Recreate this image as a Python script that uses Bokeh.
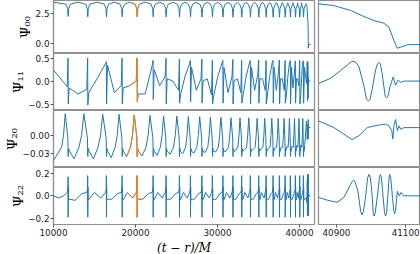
from bokeh.plotting import figure
from bokeh.layouts import gridplot
from bokeh.models import FixedTicker, Range1d, Title
from bokeh.embed import file_html
from bokeh.resources import INLINE

BLUE = "#1f77b4"
ORANGE = "#ff7f0e"

# periastron passage times (t-r)/M
t_peri = [11790, 14180, 16460, 18380, 20210, 22160, 23740, 25370, 26710, 28110,
          29390, 30670, 31890, 32960, 34020, 35040, 35940, 36790, 37560, 38260,
          38900, 39510, 40040, 40490]
t_start = 10000
t_end = 41340
orange_span = [18850, 20900]

# Psi_00
psi00_top = [3.47, 3.47, 3.47, 3.47, 3.47, 3.47, 3.47, 3.46, 3.46, 3.46, 3.46, 3.46,
             3.45, 3.45, 3.45, 3.45, 3.44, 3.44, 3.44, 3.44, 3.43, 3.43, 3.42, 3.42]
psi00_dip = [2.28, 2.26, 2.25, 2.25, 2.25, 2.25, 2.24, 2.24, 2.24, 2.23, 2.23, 2.23,
             2.22, 2.22, 2.22, 2.22, 2.22, 2.22, 2.22, 2.22, 2.22, 2.22, 2.22, 2.22]
psi00_shoulder = [3.30, 2.95]

# Psi_11
psi11_pre = [-0.12, -0.18, 0.38, -0.10, 0.00, 0.34, 0.10, -0.20, 0.38, 0.05, -0.30, 0.40,
             0.10, -0.25, 0.40, 0.15, -0.20, 0.40, 0.20, -0.20, 0.40, 0.20, -0.10, 0.40]
psi11_hi = [0.50, 0.50, 0.42, 0.50, 0.50, 0.45, 0.50, 0.48, 0.45, 0.48, 0.46, 0.45,
            0.47, 0.45, 0.45, 0.46, 0.45, 0.45, 0.46, 0.45, 0.45, 0.44, 0.45, 0.44]
psi11_lo = [-0.50, -0.52, -0.50, -0.50, -0.45, -0.40, -0.50, -0.48, -0.45, -0.48, -0.50, -0.48,
            -0.50, -0.48, -0.50, -0.48, -0.50, -0.48, -0.50, -0.48, -0.50, -0.48, -0.50, -0.48]
psi11_post = [-0.15, -0.25, 0.35, -0.15, -0.28, 0.25, 0.05, -0.30, 0.30, 0.00, -0.35, 0.30,
              0.00, -0.35, 0.30, 0.05, -0.35, 0.30, 0.05, -0.35, 0.30, 0.05, -0.30, 0.30]
psi11_mid = [0.24, -0.28, 0.05, -0.25, -0.10, -0.28, -0.10, 0.00, 0.10, -0.20, 0.05, 0.10,
             -0.25, 0.05, 0.10, -0.20, 0.05, 0.10, -0.20, 0.05, 0.10, -0.15, 0.05, 0.10]

# Psi_20
psi20_start = -0.043
psi20_min = [-0.040, -0.040, -0.038, -0.036, -0.035, -0.034, -0.032, -0.031, -0.030, -0.029,
             -0.028, -0.027, -0.026, -0.025, -0.024, -0.023, -0.022, -0.021, -0.020, -0.019,
             -0.018, -0.017, -0.016, -0.015]
psi20_peak = [0.038, 0.038, 0.037, 0.037, 0.036, 0.035, 0.034, 0.034, 0.033, 0.033,
              0.032, 0.032, 0.031, 0.031, 0.031, 0.030, 0.030, 0.030, 0.030, 0.030,
              0.030, 0.030, 0.030, 0.030]
psi20_spike = [-0.004, -0.036]

# Psi_22
psi22_hi = [0.17, 0.18, 0.18, 0.18, 0.18, 0.18, 0.18, 0.18, 0.18, 0.18, 0.18, 0.18,
            0.18, 0.18, 0.18, 0.18, 0.18, 0.18, 0.18, 0.18, 0.18, 0.18, 0.18, 0.18]
psi22_lo = [-0.19, -0.19, -0.19, -0.19, -0.19, -0.19, -0.19, -0.19, -0.19, -0.19, -0.19, -0.19,
            -0.19, -0.19, -0.19, -0.19, -0.19, -0.19, -0.19, -0.19, -0.19, -0.19, -0.19, -0.19]
psi22_w1 = [-0.02, -0.04, 0.03, -0.03, 0.03, -0.03, 0.03, -0.03, 0.03, -0.03, 0.03, -0.03,
            0.03, -0.03, 0.03, -0.03, 0.03, -0.03, 0.03, -0.03, 0.03, -0.03, 0.03, -0.03]
psi22_w2 = [0.00, 0.02, -0.02, 0.02, -0.02, 0.02, -0.02, 0.02, -0.02, 0.02, -0.02, 0.02,
            -0.02, 0.02, -0.02, 0.02, -0.02, 0.02, -0.02, 0.02, -0.02, 0.02, -0.02, 0.02]

# plunge and ringdown
pl00_t = [40849, 40892, 40941, 40979, 41008, 41037, 41052, 41066, 41076, 41086, 41105, 41143]
pl00_v = [3.33, 3.19, 2.78, 2.28, 1.94, 1.72, 1.38, 0.27, -0.37, -0.28, -0.08, -0.06]
pl11_t = [40849, 40883, 40912, 40936, 40943, 40950, 40957, 40965, 40979, 40987, 40992, 40997,
          41003, 41013, 41019, 41023, 41027, 41032, 41041, 41045, 41049, 41055, 41064, 41071,
          41078, 41086, 41095, 41143]
pl11_v = [-0.05, 0.06, 0.23, 0.38, 0.42, 0.43, 0.40, 0.31, -0.09, -0.40, -0.43, -0.40,
          -0.19, 0.24, 0.38, 0.41, 0.37, 0.16, -0.33, -0.37, -0.33, -0.12, 0.09, -0.09,
          0.02, -0.03, 0.0, 0.0]
pl20_t = [40849, 40892, 40921, 40945, 40965, 40989, 41018, 41042, 41052, 41060, 41063, 41066,
          41071, 41076, 41081, 41086, 41095, 41143]
pl20_v = [0.0254, 0.0142, 0.0029, -0.0068, 0.0, 0.014, 0.018, 0.020, 0.017, 0.0085, -0.0056,
          0.017, 0.028, 0.0085, 0.017, 0.011, 0.014, 0.014]
pl22_t = [40849, 40873, 40902, 40921, 40941, 40946, 40950, 40954, 40962, 40970, 40974, 40978,
          40984, 40990, 40994, 40998, 41003, 41006, 41009, 41012, 41019, 41024, 41027, 41030,
          41035, 41039, 41042, 41045, 41049, 41052, 41054, 41057, 41062, 41066, 41068, 41071,
          41076, 41082, 41087, 41095, 41143]
pl22_v = [-0.015, -0.038, -0.058, -0.015, 0.10, 0.13, 0.14, 0.12, 0.043, -0.14, -0.17, -0.14,
          -0.015, 0.16, 0.19, 0.16, 0.014, -0.15, -0.18, -0.15, 0.014, 0.16, 0.19, 0.16,
          -0.015, -0.15, -0.18, -0.15, 0.014, 0.16, 0.19, 0.16, -0.015, -0.14, -0.16, -0.13,
          0.04, 0.0, 0.03, 0.0, 0.0]

n = len(t_peri)


def nxt(i):
    return t_peri[i + 1] if i + 1 < n else pl00_t[0]


def build00():
    t, v = [t_start], [psi00_top[0]]
    for i, ts in enumerate(t_peri):
        t += [ts - 260, ts - 70, ts, ts + 70, ts + 260]
        v += [psi00_shoulder[0], psi00_shoulder[1], psi00_dip[i], psi00_shoulder[1], psi00_shoulder[0]]
        if i + 1 < n:
            t.append((ts + nxt(i)) / 2)
            v.append(psi00_top[i + 1])
    t += pl00_t + [t_end]
    v += pl00_v + [pl00_v[-1]]
    return t, v


def build11():
    t, v = [t_start], [psi11_mid[0]]
    for i, ts in enumerate(t_peri):
        t += [ts - 120, ts - 15, ts + 10, ts + 120]
        v += [psi11_pre[i], psi11_hi[i], psi11_lo[i], psi11_post[i]]
        if i + 1 < n:
            t.append((ts + nxt(i)) / 2)
            v.append(psi11_mid[i + 1])
    t += pl11_t + [t_end]
    v += pl11_v + [pl11_v[-1]]
    return t, v


def build20():
    t, v = [t_start], [psi20_start]
    prev = t_start
    for i, ts in enumerate(t_peri):
        P = ts - prev
        if i > 0:
            t += [prev + 0.08 * P, prev + 0.3 * P]
            v += [-0.027, psi20_min[i - 1]]
        t += [prev + 0.55 * P, prev + 0.68 * P, ts - 0.2 * P, ts - 40, ts, ts + 40]
        v += [-0.02, 0.0, psi20_peak[i], psi20_spike[0], psi20_spike[1], -0.022]
        prev = ts
    P = pl20_t[0] - prev
    t += [prev + 0.15 * P, prev + 0.45 * P]
    v += [-0.027, psi20_min[-1]]
    t += pl20_t + [t_end]
    v += pl20_v + [pl20_v[-1]]
    return t, v


def build22():
    t, v = [t_start], [0.0]
    prev = t_start
    for i, ts in enumerate(t_peri):
        P = ts - prev
        t += [prev + 0.35 * P, prev + 0.7 * P]
        v += [psi22_w1[i], psi22_w2[i]]
        t += [ts - 120, ts - 30, ts - 12, ts, ts + 15, ts + 40, ts + 150]
        v += [0.03, 0.06, psi22_hi[i], psi22_lo[i], 0.08, -0.04, -0.03]
        prev = ts
    t += pl22_t + [t_end]
    v += pl22_v + [pl22_v[-1]]
    return t, v


series = [build00(), build11(), build20(), build22()]
labels = ["Ψ₀₀", "Ψ₁₁", "Ψ₂₀", "Ψ₂₂"]
y_ranges = [(-0.81, 3.61), (-0.64, 0.60), (-0.055, 0.0436), (-0.255, 0.252)]
y_ticks = [[0.0, 2.5], [-0.5, 0.0, 0.5], [-0.03, 0.0], [-0.2, 0.0, 0.2]]
y_tick_text = [{0.0: "0.0", 2.5: "2.5"},
               {-0.5: "−0.5", 0.0: "0.0", 0.5: "0.5"},
               {-0.03: "−0.03", 0.0: "0.00"},
               {-0.2: "−0.2", 0.0: "0.0", 0.2: "0.2"}]
row_h = [53, 57, 57, 57]
BOTTOM = 30
LEFT_BORDER = 53
LEFT_W, RIGHT_W = 316, 104
left_x = (10000, 41830)
right_x = (40848, 41143)

TICK_FONT = "8.8px"
SPINE = "#8f8f8f"


def style(p):
    p.background_fill_color = "white"
    p.border_fill_color = "white"
    p.outline_line_color = SPINE
    p.outline_line_width = 1.2
    p.xgrid.visible = False
    p.ygrid.visible = False
    p.min_border_top = 0


rows = []
for r in range(4):
    last = r == 3
    h = row_h[r] + (BOTTOM if last else 0)
    tt, vv = series[r]
    figs = []
    for c in range(2):
        xr = left_x if c == 0 else right_x
        p = figure(width=LEFT_W if c == 0 else RIGHT_W, height=h,
                   x_range=Range1d(*xr), y_range=Range1d(*y_ranges[r]),
                   output_backend="svg", toolbar_location=None,
                   x_axis_location="below" if last else None,
                   y_axis_location="left" if c == 0 else None)
        style(p)
        p.min_border_left = LEFT_BORDER if c == 0 else 2
        p.min_border_right = 2 if c == 0 else 0
        p.min_border_bottom = BOTTOM if last else 0
        p.line(tt, vv, line_color=BLUE, line_width=1)
        ot = [a for a in tt if orange_span[0] <= a <= orange_span[1]]
        ov = [b for a, b in zip(tt, vv) if orange_span[0] <= a <= orange_span[1]]
        p.line(ot, ov, line_color=ORANGE, line_width=1)
        if c == 0:
            ax = p.yaxis[0]
            ax.ticker = FixedTicker(ticks=y_ticks[r])
            ax.major_label_overrides = y_tick_text[r]
            p.add_layout(Title(text=labels[r], align="center", text_font="DejaVu Serif",
                               text_font_style="normal", text_font_size="13px",
                               text_color="black", standoff=0, offset=0), "left")
        if last:
            ax = p.xaxis[0]
            ax.ticker = FixedTicker(ticks=[10000, 20000, 30000, 40000] if c == 0 else [40900, 41100])
            if c == 0:
                p.add_layout(Title(text="(t − r)/M", align="center", text_font="DejaVu Serif",
                                   text_font_style="italic", text_font_size="12px",
                                   text_color="black", standoff=0, offset=0), "below")
        for ax in p.axis:
            ax.axis_line_color = SPINE
            ax.axis_line_width = 1.2
            ax.major_tick_line_color = "#555555"
            ax.major_tick_out = 3
            ax.major_tick_in = 0
            ax.minor_tick_out = 0
            ax.minor_tick_in = 0
            ax.major_label_standoff = 1
            ax.major_label_text_font = "DejaVu Sans"
            ax.major_label_text_font_size = TICK_FONT
            ax.major_label_text_color = "#222222"
        figs.append(p)
    rows.append(figs)

grid = gridplot(rows, toolbar_location=None)
open("out.html", "w").write(file_html(grid, INLINE))
